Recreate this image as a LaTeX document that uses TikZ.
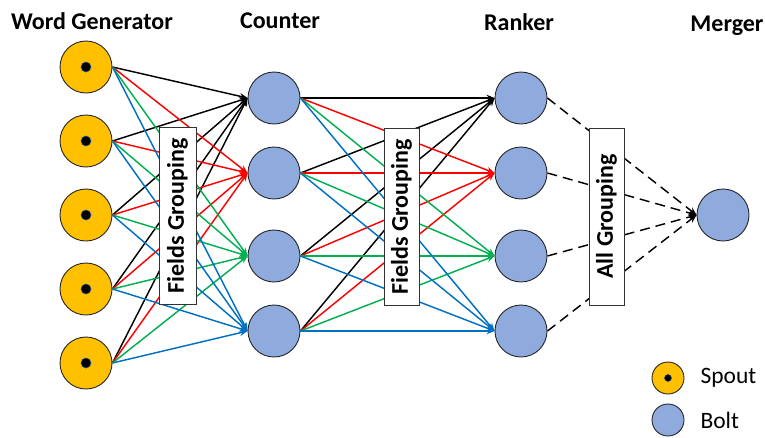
\documentclass[tikz,border=0pt]{standalone}
\usepackage{fontspec}
\setmainfont{Carlito}
\usetikzlibrary{arrows.meta}
\definecolor{spoutfill}{HTML}{FFC000}
\definecolor{boltfill}{HTML}{8FAADC}
\definecolor{linkred}{HTML}{FF0000}
\definecolor{linkgreen}{HTML}{00B050}
\definecolor{linkblue}{HTML}{0070C0}
\definecolor{dotrim}{HTML}{2F528F}
\begin{document}
\begin{tikzpicture}[x=1pt,y=-1pt,
  spout/.style={circle,draw=black!85,line width=0.9pt,fill=spoutfill,minimum size=52pt,inner sep=0pt},
  bolt/.style={circle,draw=black!85,line width=0.9pt,fill=boltfill,minimum size=52pt,inner sep=0pt},
  dot/.style={circle,fill=black,draw=dotrim,line width=0.6pt,minimum size=10pt,inner sep=0pt},
  link/.style={line width=1.45pt,-{Stealth[length=8pt,width=6.5pt]}},
  alllink/.style={line width=1.45pt,dash pattern=on 10pt off 6pt,-{Stealth[length=8pt,width=6.5pt]}},
  grouping/.style={draw=black!80,fill=white,line width=0.8pt,minimum width=36pt,minimum height=177pt,inner sep=0pt},
  grouplabel/.style={font=\fontsize{24}{27}\selectfont\bfseries,rotate=90},
  title/.style={font=\fontsize{24}{27}\selectfont\bfseries},
  legendtext/.style={anchor=west,font=\fontsize{23.5}{26}\selectfont},
]
\useasboundingbox (0,0) rectangle (765,437);

% column titles
\node[title] (t1) at (92,21) {Word Generator};
\node[title] (t2) at (280,21) {Counter};
\node[title] (t3) at (519,22) {Ranker};
\node[title] (t4) at (727,26) {Merger};

% spouts and bolts
\foreach \i/\y in {1/67,2/141,3/215,4/289,5/363} {
  \node[spout] (s\i) at (86,\y) {};
  \node[dot] at (s\i) {};
}
\foreach \j/\y in {1/98,2/173,3/256,4/331} {
  \node[bolt] (c\j) at (274,\y) {};
  \node[bolt] (r\j) at (521,\y) {};
}
\node[bolt] (m) at (723,215) {};

% word generator -> counter
\foreach \j/\col in {1/black,2/linkred,3/linkgreen,4/linkblue}
  \foreach \i in {1,...,5}
    \draw[link,draw=\col] (s\i.east) -- (c\j.west);

% counter -> ranker
\foreach \j/\col in {1/black,2/linkred,3/linkgreen,4/linkblue}
  \foreach \i in {1,...,4}
    \draw[link,draw=\col] (c\i.east) -- (r\j.west);

% ranker -> merger
\foreach \i in {1,...,4}
  \draw[alllink] (r\i.east) -- (m.west);

% grouping boxes
\node[grouping,minimum width=37pt] (g1) at (177.5,216) {};
\node[grouplabel] at (g1) {Fields Grouping};
\node[grouping,minimum width=35pt] (g2) at (401.5,217) {};
\node[grouplabel] at (g2) {Fields Grouping};
\node[grouping,minimum width=35pt] (g3) at (606.5,216.5) {};
\node[grouplabel] at (g3) {All Grouping};

% legend
\node[spout,minimum size=32pt] (ls) at (668,378) {};
\node[dot,minimum size=7pt] at (ls) {};
\node[legendtext] (lst) at (697,378) {Spout};
\node[bolt,minimum size=32pt] (lb) at (668,420) {};
\node[legendtext] (lbt) at (697,420) {Bolt};
\end{tikzpicture}
\end{document}
